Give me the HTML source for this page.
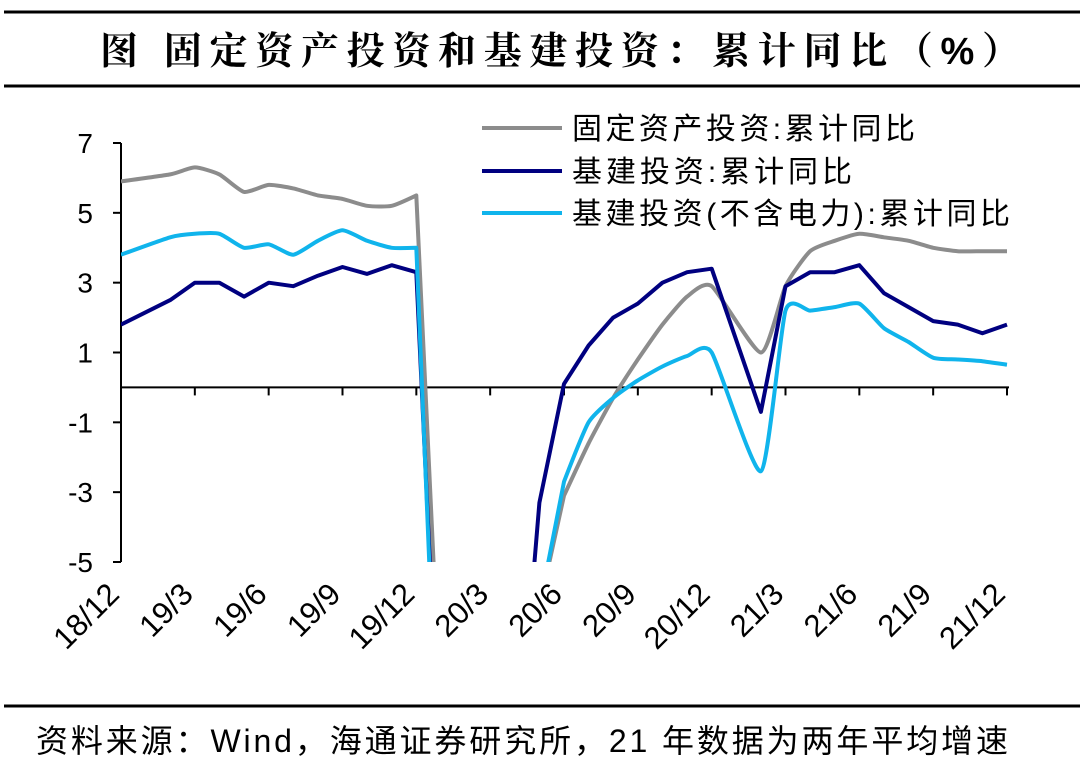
<!DOCTYPE html>
<html><head><meta charset="utf-8">
<style>
html,body{margin:0;padding:0;background:#fff;width:1080px;height:764px;overflow:hidden;}
body{position:relative;font-family:"Liberation Sans","Noto Sans CJK SC",sans-serif;}
svg{display:block;}
</style></head>
<body>
<svg id="chart" width="1080" height="764" xmlns="http://www.w3.org/2000/svg" style="position:absolute;left:0;top:0">
  <line x1="4" y1="12" x2="1080" y2="12" stroke="#000" stroke-width="3"/>
  <text x="100" y="64" font-size="38" font-weight="bold" textLength="920" lengthAdjust="spacing" font-family="'Liberation Sans','Noto Serif CJK SC',serif">图  固定资产投资和基建投资：累计同比（%）</text>
  <line x1="4" y1="86" x2="1080" y2="86" stroke="#000" stroke-width="3"/>
  <line x1="4" y1="706" x2="1080" y2="706" stroke="#000" stroke-width="3"/>
  <text x="36" y="752" font-size="32" textLength="972" lengthAdjust="spacing">资料来源：Wind，海通证券研究所，21 年数据为两年平均增速</text>
  <g id="plot"></g>
  <g>
    <line x1="482" y1="128" x2="562" y2="128" stroke="#8c8c8c" stroke-width="4"/>
    <text x="572" y="139" font-size="30" textLength="343" lengthAdjust="spacing">固定资产投资:累计同比</text>
    <line x1="482" y1="171" x2="562" y2="171" stroke="#000080" stroke-width="4"/>
    <text x="572" y="182" font-size="30" textLength="280" lengthAdjust="spacing">基建投资:累计同比</text>
    <line x1="482" y1="213" x2="562" y2="213" stroke="#10b4ec" stroke-width="4"/>
    <text x="572" y="224" font-size="30" textLength="438" lengthAdjust="spacing">基建投资(不含电力):累计同比</text>
  </g>
</svg>
<script>
const months = ["18/12","19/2","19/3","19/4","19/5","19/6","19/7","19/8","19/9","19/10","19/11","19/12","20/2","20/3","20/4","20/5","20/6","20/7","20/8","20/9","20/10","20/11","20/12","21/2","21/3","21/4","21/5","21/6","21/7","21/8","21/9","21/10","21/11","21/12"];
const faiValues = [5.9,6.1,6.3,6.1,5.6,5.8,5.7,5.5,5.4,5.2,5.2,5.5,-24.5,-16.1,-10.3,-6.3,-3.1,-1.6,-0.3,0.8,1.8,2.6,2.9,1.0,2.9,3.9,4.2,4.4,4.3,4.2,4.0,3.9,3.9,3.9];
const infraValues = [1.8,2.5,3.0,3.0,2.6,3.0,2.9,3.2,3.45,3.25,3.5,3.3,-26.9,-19.7,-11.8,-3.3,0.1,1.2,2.0,2.4,3.0,3.3,3.4,-0.7,2.9,3.3,3.3,3.5,2.7,2.3,1.9,1.8,1.55,1.8];
const infraExPowerValues = [3.8,4.3,4.4,4.4,4.0,4.1,3.8,4.2,4.5,4.2,4.0,4.0,-30.3,-19.7,-11.8,-6.3,-2.7,-1.0,-0.3,0.2,0.6,0.9,1.0,-2.4,2.2,2.2,2.3,2.4,1.7,1.3,0.85,0.8,0.75,0.65];
const yTicks = [7,5,3,1,-1,-3,-5];
const xTickLabels = ["18/12","19/3","19/6","19/9","19/12","20/3","20/6","20/9","20/12","21/3","21/6","21/9","21/12"];

const NS="http://www.w3.org/2000/svg";
const X0=121, X1=1007, Y7=143, Y5n=562;
function mIdx(s){const p=s.split("/");return (+p[0]-18)*12+(+p[1])-12;}
function xS(s){return X0+(X1-X0)*mIdx(s)/36;}
function yS(v){return Y7+(7-v)*(Y5n-Y7)/12;}
const plot=document.getElementById("plot");
function mk(tag,attrs){const e=document.createElementNS(NS,tag);for(const k in attrs)e.setAttribute(k,attrs[k]);plot.appendChild(e);return e;}

const defs=mk("defs",{});
const cp=document.createElementNS(NS,"clipPath");cp.setAttribute("id","clip");
const cr=document.createElementNS(NS,"rect");cr.setAttribute("x",X0);cr.setAttribute("y",100);cr.setAttribute("width",X1-X0+20);cr.setAttribute("height",yS(-5)-100);
cp.appendChild(cr);defs.appendChild(cp);

const ya=mk("line",{x1:X0,y1:Y7,x2:X0,y2:Y5n,stroke:"#000","stroke-width":2});


yTicks.forEach(v=>{
  const t=mk("line",{x1:X0-8,y1:yS(v),x2:X0,y2:yS(v),stroke:"#000","stroke-width":2});
  
  
  const l=mk("text",{x:X0-28,y:yS(v)+10,"text-anchor":"end","font-size":28});
  l.textContent=v;
  
  
});
const xa=mk("line",{x1:X0,y1:yS(0),x2:X1+2,y2:yS(0),stroke:"#000","stroke-width":2});


xTickLabels.forEach(s=>{
  const x=xS(s);
  const t=mk("line",{x1:x,y1:yS(0),x2:x,y2:yS(0)+8,stroke:"#000","stroke-width":2});
  
  
  const l=mk("text",{x:x,y:596,"text-anchor":"end","font-size":31,transform:`rotate(-45 ${x} 596)`});
  l.textContent=s;
  
  
});
function series(vals,color,name,k){
  const pts=vals.map((v,i)=>[xS(months[i]),yS(v)]);
  const n=pts.length;
  // tangents; flatten near off-scale points to avoid overshoot
  const tan=pts.map((p,i)=>{
    const a=pts[Math.max(0,i-1)],b=pts[Math.min(n-1,i+1)];
    const near=[vals[i-1],vals[i],vals[i+1]].some(v=>v!==undefined&&v<-6);
    if(!k||near) return [0,0];
    return [(b[0]-a[0])*k,(b[1]-a[1])*k];
  });
  let d="M"+pts[0][0].toFixed(1)+","+pts[0][1].toFixed(1);
  for(let i=1;i<n;i++){
    const p1=pts[i-1],p2=pts[i];
    const c1=[p1[0]+tan[i-1][0],p1[1]+tan[i-1][1]];
    const c2=[p2[0]-tan[i][0],p2[1]-tan[i][1]];
    d+=` C${c1[0].toFixed(1)},${c1[1].toFixed(1)} ${c2[0].toFixed(1)},${c2[1].toFixed(1)} ${p2[0].toFixed(1)},${p2[1].toFixed(1)}`;
  }
  const p=mk("path",{d:d,fill:"none",stroke:color,"stroke-width":4,"stroke-linejoin":"round","clip-path":"url(#clip)"});
  
  
}
series(faiValues,"#8c8c8c","fai-line",0.1);
series(infraValues,"#000080","infra-line",0);
series(infraExPowerValues,"#10b4ec","infra-ex-power-line",0.1);
</script>
</body></html>
